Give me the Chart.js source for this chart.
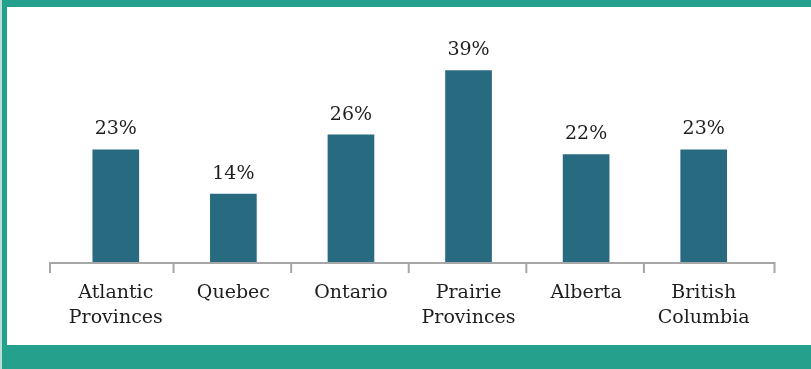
<!DOCTYPE html>
<html>
<head>
<meta charset="utf-8">
<script src="https://cdn.jsdelivr.net/npm/chart.js@4"></script>
<style>
  html, body { margin: 0; padding: 0; background: #fff; }
  #wrap { position: relative; width: 811px; height: 369px; overflow: hidden; }
  .band { position: absolute; background: #24a08d; }
  #edge { position: absolute; left: 0; top: 0; width: 2px; height: 369px; background: #b9ded8; }
  canvas { position: absolute; left: 0; top: 0; }
</style>
</head>
<body>
<div id="wrap">
  <div class="band" style="left:2px;top:0;width:809px;height:7px"></div>
  <div class="band" style="left:2px;top:0;width:5px;height:369px"></div>
  <div class="band" style="left:2px;top:345px;width:809px;height:24px"></div>
  <div id="edge"></div>
  <canvas id="myChart" width="811" height="369"></canvas>
</div>
<script>
const regions = [
  ['Atlantic', 'Provinces'],
  'Quebec',
  'Ontario',
  ['Prairie', 'Provinces'],
  'Alberta',
  ['British', 'Columbia']
]
const shares = [23, 14, 26, 39, 22, 23]

const serif = '"DejaVu Serif", "Liberation Serif", serif'
const axisGrey = '#a6a6a6'

// writes the percentage above each bar
const valueLabels = {
  id: 'valueLabels',
  afterDatasetsDraw(chart) {
    const ctx = chart.ctx
    const meta = chart.getDatasetMeta(0)
    ctx.save()
    ctx.font = '19px ' + serif
    ctx.fillStyle = '#1e1e1e'
    ctx.textAlign = 'center'
    ctx.textBaseline = 'alphabetic'
    meta.data.forEach((bar, i) => {
      ctx.fillText(shares[i] + '%', bar.x, bar.y - 15)
    })
    ctx.restore()
  }
}

// category axis line, a bit wider than the plot, with separator ticks
const categoryAxis = {
  id: 'categoryAxis',
  afterDatasetsDraw(chart) {
    const { ctx, chartArea } = chart
    const x = chart.scales.x
    const y = chartArea.bottom
    const left = chartArea.left - 7
    const right = chartArea.right + 12
    const marks = [left, right]
    for (let i = 1; i < regions.length; i++) {
      marks.push((x.getPixelForValue(i - 1) + x.getPixelForValue(i)) / 2 - 1)
    }
    ctx.save()
    ctx.strokeStyle = axisGrey
    ctx.lineWidth = 2
    ctx.beginPath()
    ctx.moveTo(left - 1, y)
    ctx.lineTo(right + 1, y)
    marks.forEach(m => {
      ctx.moveTo(m, y)
      ctx.lineTo(m, y + 10)
    })
    ctx.stroke()
    ctx.restore()
  }
}

new Chart(document.getElementById('myChart'), {
  type: 'bar',
  data: {
    labels: regions,
    datasets: [{
      data: shares,
      backgroundColor: '#286a7f',
      categoryPercentage: 1,
      barPercentage: 0.397
    }]
  },
  options: {
    responsive: false,
    animation: false,
    layout: { padding: { left: 57, right: 48.5, top: 16, bottom: 0 } },
    plugins: {
      legend: { display: false },
      tooltip: { enabled: false }
    },
    scales: {
      y: {
        display: false,
        min: 0,
        max: 50
      },
      x: {
        afterFit(scale) { scale.height = 106 },
        border: { display: false },
        grid: {
          drawOnChartArea: false,
          drawTicks: true,
          tickLength: 10,
          color: 'transparent'
        },
        ticks: {
          color: '#1e1e1e',
          padding: 8,
          maxRotation: 0,
          font: { family: serif, size: 19, lineHeight: 1.3 }
        }
      }
    }
  },
  plugins: [valueLabels, categoryAxis]
})
</script>
</body>
</html>
